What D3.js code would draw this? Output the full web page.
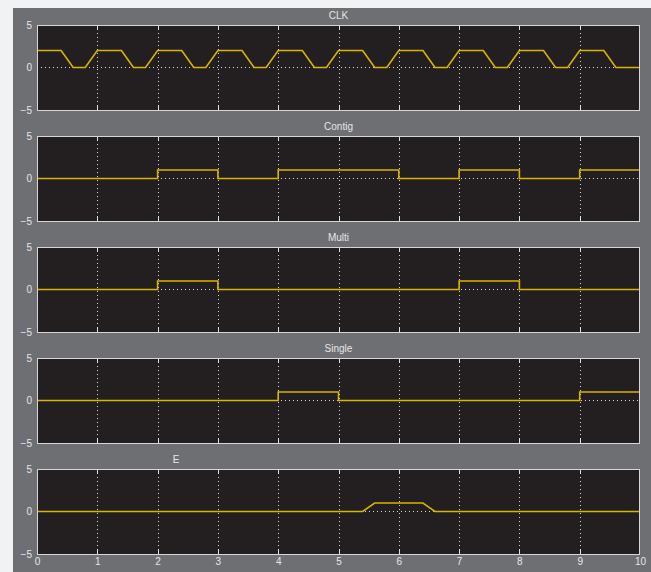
<!DOCTYPE html>
<html>
<head>
<meta charset="utf-8">
<script src="https://cdn.jsdelivr.net/npm/d3@7"></script>
<style>
  body { margin: 0; background: #f1f2f4; }
  svg { display: block; }
  text { font-family: "Liberation Sans", Arial, sans-serif; font-size: 10px; fill: #e6e6e6; }
</style>
</head>
<body>
<script>
let width = 651;
let height = 572;

// time ticks and y ticks
let xTicks = [0, 1, 2, 3, 4, 5, 6, 7, 8, 9, 10];
let yTicks = [-5, 0, 5];

let titles = ['CLK', 'Contig', 'Multi', 'Single', 'E'];

// CLK: trapezoid clock
let clkTime  = [0, 0.4, 0.6, 0.8, 1, 1.4, 1.6, 1.8, 2, 2.4, 2.6, 2.8, 3, 3.4, 3.6, 3.8, 4, 4.4, 4.6, 4.8, 5,
                5.4, 5.6, 5.8, 6, 6.4, 6.6, 6.8, 7, 7.4, 7.6, 7.8, 8, 8.4, 8.6, 8.8, 9, 9.4, 9.6, 10];
let clkValue = [2, 2, 0, 0, 2, 2, 0, 0, 2, 2, 0, 0, 2, 2, 0, 0, 2, 2, 0, 0, 2,
                2, 0, 0, 2, 2, 0, 0, 2, 2, 0, 0, 2, 2, 0, 0, 2, 2, 0, 0];

// step signals, value held over each unit interval [t, t+1)
let stepTime = [0, 1, 2, 3, 4, 5, 6, 7, 8, 9, 10];
let contigValue = [0, 0, 1, 0, 1, 1, 0, 1, 0, 1, 1];
let multiValue  = [0, 0, 1, 0, 0, 0, 0, 1, 0, 0, 0];
let singleValue = [0, 0, 0, 0, 1, 0, 0, 0, 0, 1, 1];

// E pulse
let eTime  = [0, 5.4, 5.6, 6.4, 6.6, 10];
let eValue = [0, 0, 1, 1, 0, 0];

let signals = [
  { t: clkTime, v: clkValue, step: false },
  { t: stepTime, v: contigValue, step: true },
  { t: stepTime, v: multiValue, step: true },
  { t: stepTime, v: singleValue, step: true },
  { t: eTime, v: eValue, step: false }
];

let svg = d3.select('body').append('svg').attr('width', width).attr('height', height);

// grey scope panel
svg.append('rect').attr('x', 13).attr('y', 8).attr('width', width - 13).attr('height', height - 8)
  .attr('fill', '#6e6f72');

let left = 37, right = 640;
let panelTop = 25, panelStep = 111, panelH = 85;

let x = d3.scaleLinear().domain([0, 10]).range([left, right]);

signals.forEach((s, i) => {
  let top = panelTop + i * panelStep;
  let y = d3.scaleLinear().domain([-5, 5]).range([top + panelH, top]);
  let g = svg.append('g');

  g.append('rect').attr('x', left).attr('y', top).attr('width', right - left).attr('height', panelH)
    .attr('fill', '#231f20');

  // dotted grid
  g.selectAll('.vgrid').data(xTicks.slice(1, -1)).enter().append('line')
    .attr('x1', d => Math.round(x(d)) + 0.5).attr('x2', d => Math.round(x(d)) + 0.5)
    .attr('y1', top).attr('y2', top + panelH)
    .attr('stroke', '#d8d8d8').attr('stroke-width', 1).attr('stroke-dasharray', '1,3');
  g.append('line')
    .attr('x1', left).attr('x2', right)
    .attr('y1', y(0)).attr('y2', y(0))
    .attr('stroke', '#d8d8d8').attr('stroke-width', 1).attr('stroke-dasharray', '1,3');

  // small solid tick marks top and bottom
  g.selectAll('.tk').data(xTicks.slice(1, -1)).enter().append('path')
    .attr('d', d => {
      let px = Math.round(x(d)) + 0.5;
      return `M${px},${top}v5M${px},${top + panelH}v-5`;
    })
    .attr('stroke', '#e0e0e0').attr('stroke-width', 1);

  // signal
  let pts = s.t.map((t, k) => [t, s.v[k]]);
  let line = d3.line().x(d => x(d[0])).y(d => y(d[1]));
  if (s.step) line.curve(d3.curveStepAfter);
  g.append('path').datum(pts).attr('d', line)
    .attr('fill', 'none').attr('stroke', '#d9b400').attr('stroke-width', 1.6);

  // border
  g.append('rect').attr('x', left + 0.5).attr('y', top + 0.5).attr('width', right - left - 1).attr('height', panelH)
    .attr('fill', 'none').attr('stroke', '#d6d6d6').attr('stroke-width', 1);

  // y axis labels
  let yAxis = d3.axisLeft(y).tickValues(yTicks).tickSize(0).tickPadding(5).tickFormat(d3.format('d'));
  let ya = g.append('g').attr('transform', `translate(${left},0)`).call(yAxis);
  ya.select('.domain').remove();
  ya.selectAll('text').style('font-family', '"Liberation Sans", Arial, sans-serif')
    .style('font-size', '10px').attr('fill', '#e6e6e6');

  // title
  let tx = i === 4 ? 176 : (left + right) / 2;
  g.append('text').attr('x', tx).attr('y', top - 6).attr('text-anchor', 'middle').text(titles[i]);

  if (i === 4) {
    let xAxis = d3.axisBottom(x).tickValues(xTicks).tickSize(0).tickPadding(4).tickFormat(d3.format('d'));
    let xa = g.append('g').attr('transform', `translate(0,${top + panelH})`).call(xAxis);
    xa.select('.domain').remove();
    xa.selectAll('text').style('font-family', '"Liberation Sans", Arial, sans-serif')
      .style('font-size', '10px').attr('fill', '#e6e6e6');
  }
});
</script>
</body>
</html>
